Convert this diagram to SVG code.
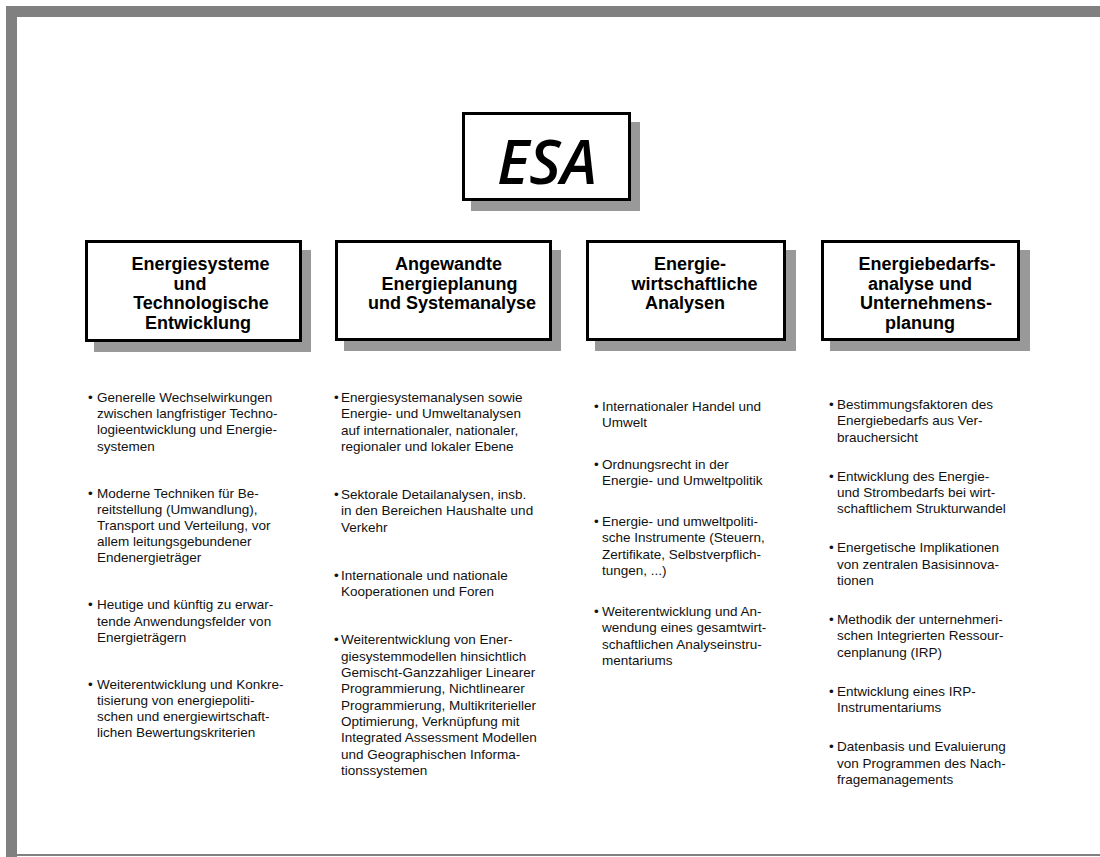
<svg xmlns="http://www.w3.org/2000/svg" width="1100" height="857" viewBox="0 0 1100 857">
<style>
.frame{fill:#808080}
.shadow{fill:#999999}
.box{fill:#ffffff;stroke:#000000;stroke-width:3}
.esa{font-family:"Open Sans","Liberation Sans",sans-serif;font-style:italic;font-weight:600;font-size:61px;fill:#000;text-anchor:middle}
.hd{font-family:"Liberation Sans",Arial,sans-serif;font-weight:bold;font-size:18px;fill:#000;text-anchor:middle}
.it{font-family:"Liberation Sans",Arial,sans-serif;font-size:13.5px;fill:#111}
</style>
<rect width="1100" height="857" fill="#ffffff"/>
<g id="frame">
<rect class="frame" x="6" y="6" width="1094" height="11"/>
<rect class="frame" x="6" y="6" width="11" height="851"/>
<rect class="frame" x="6" y="854" width="1094" height="2"/>
</g>
<g id="connectors"></g>
<g id="esa">
<rect class="shadow" x="471" y="122" width="169" height="89"/>
<rect class="box" x="463.5" y="113.5" width="166" height="86"/>
<text class="esa" x="547" y="184">ESA</text>
</g>
<g id="box1">
<rect class="shadow" x="94" y="250" width="217" height="102"/>
<rect class="box" x="86.5" y="241.5" width="214" height="99"/>
<text class="hd"><tspan x="200.5" y="270">Energiesysteme</tspan><tspan x="190" y="290">und</tspan><tspan x="201" y="309">Technologische</tspan><tspan x="198" y="329">Entwicklung</tspan></text>
</g>
<g id="box2">
<rect class="shadow" x="344" y="250" width="217" height="101"/>
<rect class="box" x="336.5" y="241.5" width="214" height="98"/>
<text class="hd"><tspan x="448.5" y="270">Angewandte</tspan><tspan x="449.5" y="290">Energieplanung</tspan><tspan x="452" y="309">und Systemanalyse</tspan></text>
</g>
<g id="box3">
<rect class="shadow" x="595" y="250" width="201" height="101"/>
<rect class="box" x="587.5" y="241.5" width="197" height="98"/>
<text class="hd"><tspan x="690" y="270">Energie-</tspan><tspan x="694.5" y="290">wirtschaftliche</tspan><tspan x="685" y="309">Analysen</tspan></text>
</g>
<g id="box4">
<rect class="shadow" x="830" y="250" width="200" height="101"/>
<rect class="box" x="822.5" y="241.5" width="196" height="98"/>
<text class="hd"><tspan x="927" y="270">Energiebedarfs-</tspan><tspan x="920" y="290">analyse und</tspan><tspan x="926" y="309">Unternehmens-</tspan><tspan x="920" y="329">planung</tspan></text>
</g>
<g id="list1">
<text class="it"><tspan x="88" y="402">•</tspan><tspan x="88" y="497.6">•</tspan><tspan x="88" y="609.4">•</tspan><tspan x="88" y="688.8">•</tspan></text>
<text class="it">
<tspan x="97" y="402">Generelle Wechselwirkungen</tspan>
<tspan x="97" y="418.2">zwischen langfristiger Techno-</tspan>
<tspan x="97" y="434.4">logieentwicklung und Energie-</tspan>
<tspan x="97" y="450.6">systemen</tspan>
<tspan x="97" y="497.6">Moderne Techniken für Be-</tspan>
<tspan x="97" y="513.8">reitstellung (Umwandlung),</tspan>
<tspan x="97" y="530">Transport und Verteilung, vor</tspan>
<tspan x="97" y="546.2">allem leitungsgebundener</tspan>
<tspan x="97" y="562.4">Endenergieträger</tspan>
<tspan x="97" y="609.4">Heutige und künftig zu erwar-</tspan>
<tspan x="97" y="625.6">tende Anwendungsfelder von</tspan>
<tspan x="97" y="641.8">Energieträgern</tspan>
<tspan x="97" y="688.8">Weiterentwicklung und Konkre-</tspan>
<tspan x="97" y="705">tisierung von energiepoliti-</tspan>
<tspan x="97" y="721.2">schen und energiewirtschaft-</tspan>
<tspan x="97" y="737.4">lichen Bewertungskriterien</tspan>
</text>
</g>
<g id="list2">
<text class="it"><tspan x="334" y="402">•</tspan><tspan x="334" y="499.1">•</tspan><tspan x="334" y="579.9">•</tspan><tspan x="334" y="644.4">•</tspan></text>
<text class="it">
<tspan x="341" y="402">Energiesystemanalysen sowie</tspan>
<tspan x="341" y="418.3">Energie- und Umweltanalysen</tspan>
<tspan x="341" y="434.6">auf internationaler, nationaler,</tspan>
<tspan x="341" y="450.9">regionaler und lokaler Ebene</tspan>
<tspan x="341" y="499.1">Sektorale Detailanalysen, insb.</tspan>
<tspan x="341" y="515.4">in den Bereichen Haushalte und</tspan>
<tspan x="341" y="531.7">Verkehr</tspan>
<tspan x="341" y="579.9">Internationale und nationale</tspan>
<tspan x="341" y="596.2">Kooperationen und Foren</tspan>
<tspan x="341" y="644.4">Weiterentwicklung von Ener-</tspan>
<tspan x="341" y="660.7">giesystemmodellen hinsichtlich</tspan>
<tspan x="341" y="677">Gemischt-Ganzzahliger Linearer</tspan>
<tspan x="341" y="693.3">Programmierung, Nichtlinearer</tspan>
<tspan x="341" y="709.6">Programmierung, Multikriterieller</tspan>
<tspan x="341" y="725.9">Optimierung, Verknüpfung mit</tspan>
<tspan x="341" y="742.2">Integrated Assessment Modellen</tspan>
<tspan x="341" y="758.5">und Geographischen Informa-</tspan>
<tspan x="341" y="774.8">tionssystemen</tspan>
</text>
</g>
<g id="list3">
<text class="it"><tspan x="594" y="411">•</tspan><tspan x="594" y="468.5">•</tspan><tspan x="594" y="526">•</tspan><tspan x="594" y="616.1">•</tspan></text>
<text class="it">
<tspan x="602" y="411">Internationaler Handel und</tspan>
<tspan x="602" y="427.3">Umwelt</tspan>
<tspan x="602" y="468.5">Ordnungsrecht in der</tspan>
<tspan x="602" y="484.8">Energie- und Umweltpolitik</tspan>
<tspan x="602" y="526">Energie- und umweltpoliti-</tspan>
<tspan x="602" y="542.3">sche Instrumente (Steuern,</tspan>
<tspan x="602" y="558.6">Zertifikate, Selbstverpflich-</tspan>
<tspan x="602" y="574.9">tungen, ...)</tspan>
<tspan x="602" y="616.1">Weiterentwicklung und An-</tspan>
<tspan x="602" y="632.4">wendung eines gesamtwirt-</tspan>
<tspan x="602" y="648.7">schaftlichen Analyseinstru-</tspan>
<tspan x="602" y="665">mentariums</tspan>
</text>
</g>
<g id="list4">
<text class="it"><tspan x="829" y="409">•</tspan><tspan x="829" y="480.7">•</tspan><tspan x="829" y="552.4">•</tspan><tspan x="829" y="624.1">•</tspan><tspan x="829" y="695.8">•</tspan><tspan x="829" y="751.2">•</tspan></text>
<text class="it">
<tspan x="837" y="409">Bestimmungsfaktoren des</tspan>
<tspan x="837" y="425.3">Energiebedarfs aus Ver-</tspan>
<tspan x="837" y="441.6">brauchersicht</tspan>
<tspan x="837" y="480.7">Entwicklung des Energie-</tspan>
<tspan x="837" y="497">und Strombedarfs bei wirt-</tspan>
<tspan x="837" y="513.3">schaftlichem Strukturwandel</tspan>
<tspan x="837" y="552.4">Energetische Implikationen</tspan>
<tspan x="837" y="568.7">von zentralen Basisinnova-</tspan>
<tspan x="837" y="585">tionen</tspan>
<tspan x="837" y="624.1">Methodik der unternehmeri-</tspan>
<tspan x="837" y="640.4">schen Integrierten Ressour-</tspan>
<tspan x="837" y="656.7">cenplanung (IRP)</tspan>
<tspan x="837" y="695.8">Entwicklung eines IRP-</tspan>
<tspan x="837" y="712.1">Instrumentariums</tspan>
<tspan x="837" y="751.2">Datenbasis und Evaluierung</tspan>
<tspan x="837" y="767.5">von Programmen des Nach-</tspan>
<tspan x="837" y="783.8">fragemanagements</tspan>
</text>
</g>
</svg>
